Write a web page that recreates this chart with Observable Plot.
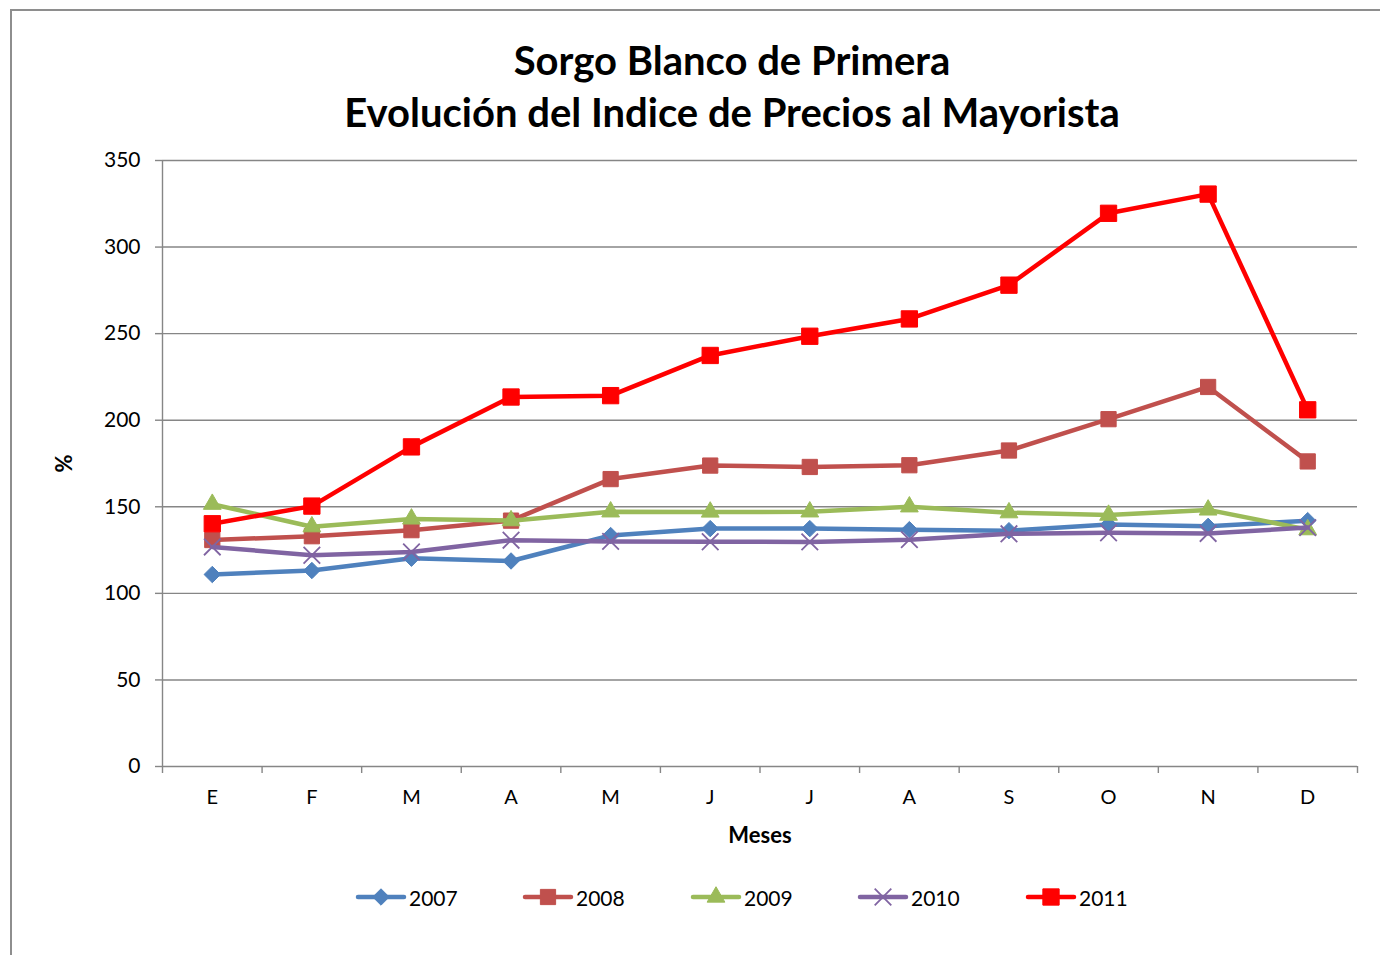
<!DOCTYPE html>
<html>
<head>
<meta charset="utf-8">
<script src="https://cdn.jsdelivr.net/npm/d3@7"></script>
<script src="https://cdn.jsdelivr.net/npm/@observablehq/plot@0.6"></script>
<style>
  html, body { margin: 0; padding: 0; background: #fff; overflow: hidden; }
  body { width: 1380px; height: 955px; position: relative; font-family: Lato, "Open Sans", sans-serif; }
  #frame { position: absolute; left: 10px; top: 9px; width: 2000px; height: 2000px;
           border-left: 2px solid #8e8e8e; border-top: 2px solid #8e8e8e; pointer-events: none; }
  #title { width: 1464px; height: 140px; box-sizing: border-box; padding-top: 34px;
           text-align: center; font-weight: bold; font-size: 40px; line-height: 52px; color: #000; }
  #chart svg { display: block; }
  #chart g[aria-label="x-axis label"] text, #chart g[aria-label="y-axis label"] text { font-weight: bold; font-size: 22px; }
  #legend { position: relative; height: 62px; }
  .item { position: absolute; top: 0; height: 62px; display: flex; align-items: center; font-size: 21px; color: #000; }
  .item svg { display: block; margin-right: 2px; }
</style>
</head>
<body>
<div id="frame"></div>
<div id="title">Sorgo Blanco de Primera<br>Evolución del Indice de Precios al Mayorista</div>
<div id="chart"></div>
<div id="legend"></div>
<script>
const months = ["E","F","M","A","M","J","J","A","S","O","N","D"];
const years = ["2007","2008","2009","2010","2011"];
const v2007 = [110.9, 113.2, 120.3, 118.7, 133.4, 137.4, 137.4, 136.8, 136.2, 139.7, 138.7, 142.0];
const v2008 = [130.8, 133.0, 136.5, 142.0, 166.0, 173.8, 173.0, 174.0, 182.5, 200.6, 219.2, 176.2];
const v2009 = [151.5, 138.5, 143.0, 142.0, 147.1, 147.0, 147.1, 150.0, 146.6, 145.2, 148.2, 136.8];
const v2010 = [126.8, 122.0, 123.9, 130.7, 130.0, 129.8, 129.7, 131.0, 134.4, 135.0, 134.6, 138.0];
const v2011 = [140.2, 150.4, 184.6, 213.4, 214.2, 237.4, 248.5, 258.5, 278.0, 319.5, 330.6, 206.0];
const yTicks = [0, 50, 100, 150, 200, 250, 300, 350];

const seriesValues = [v2007, v2008, v2009, v2010, v2011];
const colors = ["#4F81BD", "#C0504D", "#9BBB59", "#8064A2", "#FF0000"];
const symbols = ["diamond2", "square", "triangle", "times", "square"];
const radii = [7.4, 8.6, 6.6, 7.6, 9.2];
const filled = [true, true, true, false, true];

const rows = [];
years.forEach((y, s) => seriesValues[s].forEach((v, i) => rows.push({year: y, s, i, v})));

const monthIdx = d3.range(months.length);
const boundaries = d3.range(-0.5, months.length, 1);
const gray = "#868686";

const marks = [
  Plot.ruleY(yTicks.slice(1), {stroke: gray, strokeWidth: 1.4}),
  Plot.ruleY([0], {stroke: gray, strokeWidth: 1.4}),
  Plot.ruleX([-0.5], {stroke: gray, strokeWidth: 1.4}),
  Plot.axisY({ticks: yTicks, tickSize: 7, tickPadding: 15, stroke: gray, strokeWidth: 1.4,
              label: "%", labelAnchor: "center", labelOffset: 106, labelArrow: false, fontSize: 21}),
  Plot.axisX({ticks: boundaries, tickSize: 7, tickFormat: () => "", stroke: gray, strokeWidth: 1.4, label: null}),
  Plot.axisX({ticks: monthIdx, tickSize: 0, tickPadding: 23, tickFormat: i => months[i], fontSize: 20,
              label: "Meses", labelAnchor: "center", labelOffset: 76, labelArrow: false})
];
years.forEach((y, s) => {
  const data = rows.filter(d => d.s === s);
  marks.push(Plot.line(data, {x: "i", y: "v", stroke: colors[s], strokeWidth: 4.5, strokeLinejoin: "round", strokeLinecap: "round"}));
  marks.push(Plot.dot(data, {x: "i", y: "v", symbol: () => symbols[s], r: radii[s],
    fill: filled[s] ? colors[s] : "none", stroke: colors[s], strokeWidth: filled[s] ? 1 : 1.8}));
});

const chart = Plot.plot({
  width: 1380,
  height: 726,
  marginLeft: 162,
  marginRight: 23,
  marginTop: 20,
  marginBottom: 100,
  style: {fontFamily: "Lato, 'Open Sans', sans-serif", fontSize: "20px", color: "#000", background: "transparent"},
  x: {type: "linear", domain: [-0.5, months.length - 0.5]},
  y: {type: "linear", domain: [0, 350]},
  symbol: {type: "identity"},
  marks
});
document.getElementById("chart").appendChild(chart);

// legend
const legend = d3.select("#legend");
const starts = [355, 522, 690, 857, 1025];
const symMap = {diamond2: d3.symbolDiamond2, square: d3.symbolSquare, triangle: d3.symbolTriangle, times: d3.symbolTimes};
years.forEach((y, s) => {
  const item = legend.append("div").attr("class", "item").style("left", starts[s] + "px");
  const svg = item.append("svg").attr("width", 52).attr("height", 24);
  svg.append("line").attr("x1", 3).attr("x2", 49).attr("y1", 12).attr("y2", 12)
    .attr("stroke", colors[s]).attr("stroke-width", 4.5).attr("stroke-linecap", "round");
  svg.append("path").attr("transform", "translate(26,12)")
    .attr("d", d3.symbol(symMap[symbols[s]], Math.PI * radii[s] * radii[s])())
    .attr("fill", filled[s] ? colors[s] : "none").attr("stroke", colors[s]).attr("stroke-width", filled[s] ? 1 : 1.8);
  item.append("span").text(y);
});
</script>
</body>
</html>
